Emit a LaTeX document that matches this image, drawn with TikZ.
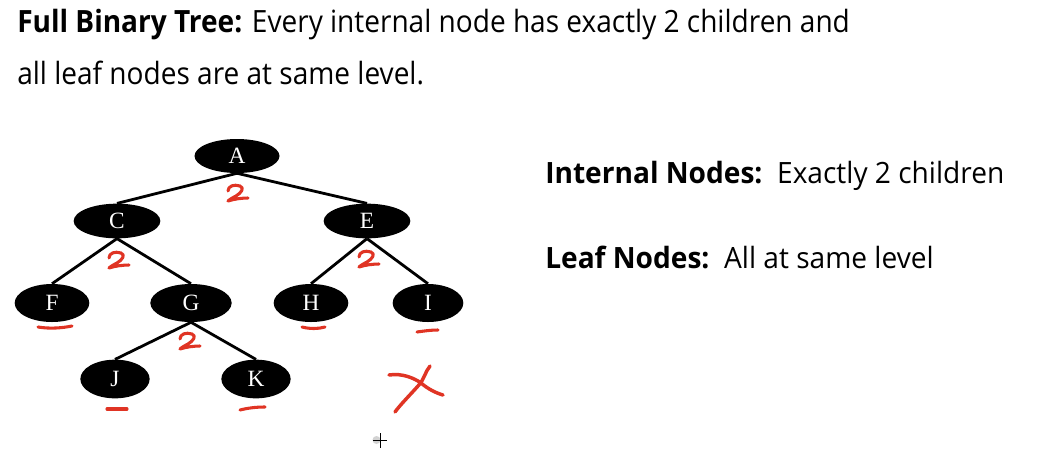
\documentclass[tikz,border=0pt]{standalone}
\usepackage{fontspec}
\setmainfont{Open Sans}
\newfontfamily\serifnode{Liberation Serif}
\usetikzlibrary{shapes.geometric}
\definecolor{inkred}{RGB}{224,52,36}
\tikzset{
  tnode/.style={ellipse, fill=black, draw=none, inner sep=0pt, text=white,
    font=\serifnode\fontsize{17.5}{17.5}\selectfont},
  szA/.style={minimum width=63.75pt, minimum height=25.5pt},
  szCE/.style={minimum width=65pt, minimum height=26pt},
  szFH/.style={minimum width=56pt, minimum height=28.5pt},
  szG/.style={minimum width=61pt, minimum height=28.5pt},
  szI/.style={minimum width=53pt, minimum height=28.5pt},
  szJK/.style={minimum width=52pt, minimum height=29pt},
  edge/.style={line width=2.1pt, black},
  redmark/.style={draw=inkred, line width=2.3pt, line cap=round, line join=round},
  titletext/.style={anchor=base west, inner sep=0pt, font=\fontsize{23}{27}\selectfont},
  sidetext/.style={anchor=base west, inner sep=0pt, font=\fontsize{22}{26}\selectfont}
}
\begin{document}
\begin{tikzpicture}[x=0.75pt, y=-0.75pt]
\useasboundingbox[fill=white] (0,0) rectangle (1042,454);

% title
\node[titletext] (t1) at (17,32) {\scalebox{0.914}[1]{\textbf{Full Binary Tree:} Every internal node has exactly 2 children and}};
\node[titletext] (t2) at (17,84) {\scalebox{0.914}[1]{all leaf nodes are at same level.}};

% side text
\node[sidetext] (s1) at (545,183) {\scalebox{0.958}[1]{\textbf{Internal Nodes:}\ \ Exactly 2 children}};
\node[sidetext] (s2) at (545,268) {\scalebox{0.958}[1]{\textbf{Leaf Nodes:}\ \ All at same level}};

% tree nodes
\node[tnode, szA] (A) at (237,156) {A};
\node[tnode, szCE] (C) at (117,221) {C};
\node[tnode, szCE] (E) at (367,221) {E};
\node[tnode, szFH] (F) at (52,303) {F};
\node[tnode, szG] (G) at (191,303) {G};
\node[tnode, szFH] (H) at (311,303) {H};
\node[tnode, szI] (I) at (428,303) {I};
\node[tnode, szJK] (J) at (115,379) {J};
\node[tnode, szJK] (K) at (256,379) {K};

% edges
\draw[edge] (A.south) -- (C.north);
\draw[edge] (A.south) -- (E.north);
\draw[edge] (C.south) -- (F.north);
\draw[edge] (C.south) -- (G.north);
\draw[edge] (E.south) -- (H.north);
\draw[edge] (E.south) -- (I.north);
\draw[edge] (G.south) -- (J.north);
\draw[edge] (G.south) -- (K.north);

% handwritten 2s
\foreach \p in {(237,193),(118,260),(368,259),(189,341)}{
  \draw[redmark, shift={\p}] (-9,-2) .. controls (-9,-7) and (-3,-9) .. (3,-7)
     .. controls (8,-5) and (4,0) .. (-1,3) .. controls (-5,5) and (-8,7) .. (-9,8)
     .. controls (-3,6) and (5,5) .. (11,5);
}

% underlines of leaves
\draw[redmark] (38,327) .. controls (50,329) and (62,328) .. (72,326);
\draw[redmark] (302,327) .. controls (310,329) and (318,329) .. (325,327);
\draw[redmark] (417,332) .. controls (424,331) and (431,330) .. (438,330);
\draw[redmark] (107,409) .. controls (113,409) and (120,409) .. (127,409);
\draw[redmark] (240,410) .. controls (248,408) and (256,407) .. (265,407);

% red cross
\draw[redmark, line width=2.6pt] (389,375) .. controls (402,373) and (414,378) .. (421,383) .. controls (428,389) and (436,393) .. (443,395);
\draw[redmark, line width=2.6pt] (430,366) .. controls (425,372) and (424,380) .. (418,386) .. controls (410,395) and (400,405) .. (395,412);

% cursor
\fill[gray!35] (376.5,440) circle (4);
\draw[black, line width=0.7pt] (373,440) -- (387,440);
\draw[black, line width=0.7pt] (380,433) -- (380,448);
\end{tikzpicture}
\end{document}
